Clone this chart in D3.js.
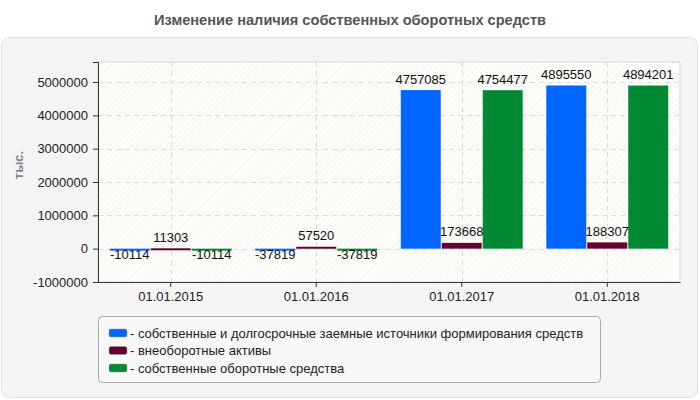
<!DOCTYPE html>
<html>
<head>
<meta charset="utf-8">
<script src="https://cdn.jsdelivr.net/npm/d3@7"></script>
<style>
  body { margin: 0; background: #fff; }
  svg { display: block; font-family: Arial, "Liberation Sans", sans-serif; }
</style>
</head>
<body>
<div id="chart"></div>
<script>
"use strict";

var categories = ["01.01.2015", "01.01.2016", "01.01.2017", "01.01.2018"];
var seriesNames = [
  "собственные и долгосрочные заемные источники формирования средств",
  "внеоборотные активы",
  "собственные оборотные средства"
];
var sourcesValues = [-10114, -37819, 4757085, 4895550];
var fixedAssetsValues = [11303, 57520, 173668, 188307];
var workingCapitalValues = [-10114, -37819, 4754477, 4894201];
var yTicks = [-1000000, 0, 1000000, 2000000, 3000000, 4000000, 5000000];
var colors = ["#0066ff", "#660033", "#008833"];

var allSeries = [sourcesValues, fixedAssetsValues, workingCapitalValues];

var w = 700, h = 400,
    plotLeft = 98, plotRight = 680, plotTop = 62, plotBottom = 282;

var svg = d3.select("#chart").append("svg")
    .attr("width", w)
    .attr("height", h);

// hatch for plot background
var defs = svg.append("defs");
var pat = defs.append("pattern")
    .attr("id", "hatch")
    .attr("width", 4).attr("height", 4)
    .attr("patternUnits", "userSpaceOnUse")
    .attr("patternTransform", "rotate(45)");
pat.append("rect").attr("width", 4).attr("height", 4).attr("fill", "#fdfdf9");
pat.append("line").attr("x1", 0).attr("y1", 0).attr("x2", 0).attr("y2", 4)
    .attr("stroke", "#eeeeea").attr("stroke-width", 1.2);

// title
svg.append("text")
    .attr("x", 350).attr("y", 25)
    .attr("text-anchor", "middle")
    .attr("font-family", "'Liberation Sans Narrow', 'Arial Narrow', Arial, sans-serif")
    .attr("font-weight", "bold")
    .attr("font-size", 14.6)
    .attr("fill", "#555")
    .text("Изменение наличия собственных оборотных средств");

// panel
svg.append("rect")
    .attr("x", 1.5).attr("y", 37.5)
    .attr("width", 696).attr("height", 360)
    .attr("rx", 8).attr("ry", 8)
    .attr("fill", "#f4f4f4")
    .attr("stroke", "#e2e2e2");

var x0 = d3.scaleBand().domain(categories).range([plotLeft, plotRight]);
var bw = x0.bandwidth();
var x1 = d3.scaleBand().domain(d3.range(allSeries.length))
    .range([11.8, bw - 11.8]).paddingInner(0.025);
var y = d3.scaleLinear().domain([-1000000, 5600000]).range([plotBottom, plotTop]);

// plot background
svg.append("rect")
    .attr("x", plotLeft).attr("y", plotTop)
    .attr("width", plotRight - plotLeft).attr("height", plotBottom - plotTop)
    .attr("fill", "url(#hatch)")
    .attr("stroke", "#d8d8d8");

// grid
svg.append("g").selectAll("line")
    .data(yTicks.slice(1))
    .enter().append("line")
    .attr("x1", plotLeft).attr("x2", plotRight)
    .attr("y1", function (d) { return Math.round(y(d)) + 0.5; })
    .attr("y2", function (d) { return Math.round(y(d)) + 0.5; })
    .attr("stroke", "#dcdcdc")
    .attr("stroke-dasharray", "5,4");

svg.append("g").selectAll("line")
    .data(categories)
    .enter().append("line")
    .attr("x1", function (d) { return Math.round(x0(d) + bw / 2) + 0.5; })
    .attr("x2", function (d) { return Math.round(x0(d) + bw / 2) + 0.5; })
    .attr("y1", plotTop).attr("y2", plotBottom)
    .attr("stroke", "#dcdcdc")
    .attr("stroke-dasharray", "5,4");

// bars
var groups = svg.append("g").selectAll("g")
    .data(categories)
    .enter().append("g")
    .attr("transform", function (d) { return "translate(" + x0(d) + ",0)"; });

groups.selectAll("rect")
    .data(function (d, i) {
      return allSeries.map(function (s, j) { return { s: j, v: s[i] }; });
    })
    .enter().append("rect")
    .attr("x", function (d) { return x1(d.s); })
    .attr("width", x1.bandwidth())
    .attr("y", function (d) { return y(Math.max(0, d.v)); })
    .attr("height", function (d) { return Math.max(2, Math.abs(y(d.v) - y(0))); })
    .attr("fill", function (d) { return colors[d.s]; });

groups.selectAll("text")
    .data(function (d, i) {
      return allSeries.map(function (s, j) { return { s: j, v: s[i] }; });
    })
    .enter().append("text")
    .attr("x", function (d) { return x1(d.s) + x1.bandwidth() / 2; })
    .attr("y", function (d) {
      return d.v >= 0 ? y(d.v) - 6.5 : y(0) + 10.5;
    })
    .attr("text-anchor", "middle")
    .attr("font-size", 13)
    .attr("fill", "#111")
    .text(function (d) { return d.v; });

// axes
var yAxis = d3.axisLeft(y).tickValues(yTicks).tickSize(5).tickPadding(5)
    .tickFormat(function (d) { return String(d); });
var gy = svg.append("g")
    .attr("transform", "translate(" + plotLeft + ",0)")
    .call(yAxis);
gy.select(".domain").attr("stroke", "#333");
gy.selectAll(".tick line").attr("stroke", "#333");
gy.selectAll("text").attr("font-size", 13).attr("fill", "#222")
    .attr("font-family", "Arial, 'Liberation Sans', sans-serif");

var xAxis = d3.axisBottom(x0).tickSize(5).tickPadding(5).tickSizeOuter(0);
var gx = svg.append("g")
    .attr("transform", "translate(0," + plotBottom + ")")
    .call(xAxis);
gx.select(".domain").attr("stroke", "#333");
gx.selectAll(".tick line").attr("stroke", "#333");
gx.selectAll("text").attr("font-size", 13).attr("fill", "#222")
    .attr("font-family", "Arial, 'Liberation Sans', sans-serif");

// y label
svg.append("text")
    .attr("transform", "translate(23,165) rotate(-90)")
    .attr("text-anchor", "middle")
    .attr("font-size", 13)
    .attr("font-weight", "bold")
    .attr("fill", "#888")
    .text("тыс.");

// legend
svg.append("rect")
    .attr("x", 98.5).attr("y", 316.5)
    .attr("width", 502).attr("height", 66)
    .attr("rx", 4).attr("ry", 4)
    .attr("fill", "#f8f8f8")
    .attr("stroke", "#aaa");

var leg = svg.append("g").selectAll("g")
    .data(seriesNames)
    .enter().append("g")
    .attr("transform", function (d, i) { return "translate(109," + (333 + i * 17.5) + ")"; });

leg.append("rect")
    .attr("x", 0).attr("y", -4)
    .attr("width", 18).attr("height", 8)
    .attr("rx", 2).attr("ry", 2)
    .attr("fill", function (d, i) { return colors[i]; })
    .attr("stroke", "#999").attr("stroke-width", 0.5);

leg.append("text")
    .attr("x", 21).attr("y", 4.5)
    .attr("font-size", 13)
    .attr("fill", "#222")
    .text(function (d) { return "- " + d; });
</script>
</body>
</html>
